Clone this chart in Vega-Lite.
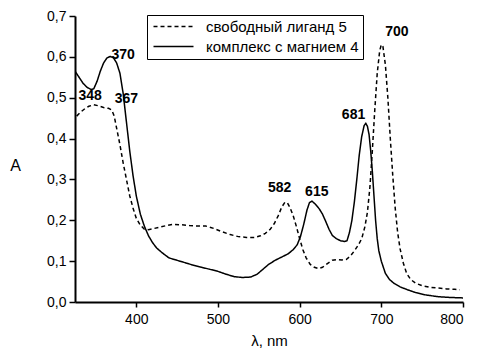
{
  "$schema": "https://vega.github.io/schema/vega-lite/v6.json",
  "autosize": {"type": "none"},
  "padding": {"left": 75, "top": 16, "right": 15, "bottom": 53},
  "width": 388,
  "height": 286,
  "background": "white",
  "config": {
    "view": {"stroke": null},
    "font": "Liberation Sans",
    "axis": {"grid": false, "domainColor": "black", "domainWidth": 2, "tickColor": "black", "tickWidth": 1.5, "labelColor": "black", "titleColor": "black", "labelFont": "Liberation Sans", "titleFont": "Liberation Sans", "titleFontWeight": "normal"}
  },
  "datasets": {
    "spectra": [
      {"series": "комплекс с магнием 4", "wl": 325, "A": 0.565},
      {"series": "комплекс с магнием 4", "wl": 330, "A": 0.55},
      {"series": "комплекс с магнием 4", "wl": 335, "A": 0.535},
      {"series": "комплекс с магнием 4", "wl": 340, "A": 0.525},
      {"series": "комплекс с магнием 4", "wl": 345, "A": 0.52},
      {"series": "комплекс с магнием 4", "wl": 348, "A": 0.522},
      {"series": "комплекс с магнием 4", "wl": 352, "A": 0.54},
      {"series": "комплекс с магнием 4", "wl": 356, "A": 0.565},
      {"series": "комплекс с магнием 4", "wl": 360, "A": 0.585},
      {"series": "комплекс с магнием 4", "wl": 364, "A": 0.597},
      {"series": "комплекс с магнием 4", "wl": 368, "A": 0.601},
      {"series": "комплекс с магнием 4", "wl": 372, "A": 0.598},
      {"series": "комплекс с магнием 4", "wl": 376, "A": 0.585},
      {"series": "комплекс с магнием 4", "wl": 380, "A": 0.56},
      {"series": "комплекс с магнием 4", "wl": 384, "A": 0.51},
      {"series": "комплекс с магнием 4", "wl": 388, "A": 0.44},
      {"series": "комплекс с магнием 4", "wl": 392, "A": 0.37},
      {"series": "комплекс с магнием 4", "wl": 396, "A": 0.31},
      {"series": "комплекс с магнием 4", "wl": 400, "A": 0.26},
      {"series": "комплекс с магнием 4", "wl": 405, "A": 0.215},
      {"series": "комплекс с магнием 4", "wl": 410, "A": 0.185},
      {"series": "комплекс с магнием 4", "wl": 415, "A": 0.162},
      {"series": "комплекс с магнием 4", "wl": 420, "A": 0.145},
      {"series": "комплекс с магнием 4", "wl": 425, "A": 0.132},
      {"series": "комплекс с магнием 4", "wl": 432, "A": 0.12},
      {"series": "комплекс с магнием 4", "wl": 440, "A": 0.108},
      {"series": "комплекс с магнием 4", "wl": 450, "A": 0.102},
      {"series": "комплекс с магнием 4", "wl": 460, "A": 0.096},
      {"series": "комплекс с магнием 4", "wl": 470, "A": 0.09},
      {"series": "комплекс с магнием 4", "wl": 480, "A": 0.085},
      {"series": "комплекс с магнием 4", "wl": 490, "A": 0.08},
      {"series": "комплекс с магнием 4", "wl": 500, "A": 0.075},
      {"series": "комплекс с магнием 4", "wl": 510, "A": 0.068},
      {"series": "комплекс с магнием 4", "wl": 520, "A": 0.062},
      {"series": "комплекс с магнием 4", "wl": 530, "A": 0.06},
      {"series": "комплекс с магнием 4", "wl": 540, "A": 0.061},
      {"series": "комплекс с магнием 4", "wl": 548, "A": 0.068},
      {"series": "комплекс с магнием 4", "wl": 555, "A": 0.08},
      {"series": "комплекс с магнием 4", "wl": 562, "A": 0.092},
      {"series": "комплекс с магнием 4", "wl": 570, "A": 0.102},
      {"series": "комплекс с магнием 4", "wl": 578, "A": 0.11},
      {"series": "комплекс с магнием 4", "wl": 586, "A": 0.118},
      {"series": "комплекс с магнием 4", "wl": 592, "A": 0.128},
      {"series": "комплекс с магнием 4", "wl": 597, "A": 0.14},
      {"series": "комплекс с магнием 4", "wl": 601, "A": 0.16},
      {"series": "комплекс с магнием 4", "wl": 605, "A": 0.19},
      {"series": "комплекс с магнием 4", "wl": 609, "A": 0.225},
      {"series": "комплекс с магнием 4", "wl": 612, "A": 0.243},
      {"series": "комплекс с магнием 4", "wl": 615, "A": 0.247},
      {"series": "комплекс с магнием 4", "wl": 619, "A": 0.24},
      {"series": "комплекс с магнием 4", "wl": 624, "A": 0.228},
      {"series": "комплекс с магнием 4", "wl": 628, "A": 0.215},
      {"series": "комплекс с магнием 4", "wl": 632, "A": 0.197},
      {"series": "комплекс с магнием 4", "wl": 636, "A": 0.178},
      {"series": "комплекс с магнием 4", "wl": 640, "A": 0.163},
      {"series": "комплекс с магнием 4", "wl": 645, "A": 0.155},
      {"series": "комплекс с магнием 4", "wl": 650, "A": 0.15},
      {"series": "комплекс с магнием 4", "wl": 655, "A": 0.148},
      {"series": "комплекс с магнием 4", "wl": 658, "A": 0.15},
      {"series": "комплекс с магнием 4", "wl": 661, "A": 0.17},
      {"series": "комплекс с магнием 4", "wl": 664, "A": 0.2},
      {"series": "комплекс с магнием 4", "wl": 667, "A": 0.245},
      {"series": "комплекс с магнием 4", "wl": 670, "A": 0.3},
      {"series": "комплекс с магнием 4", "wl": 673, "A": 0.36},
      {"series": "комплекс с магнием 4", "wl": 676, "A": 0.405},
      {"series": "комплекс с магнием 4", "wl": 679, "A": 0.432},
      {"series": "комплекс с магнием 4", "wl": 681, "A": 0.437},
      {"series": "комплекс с магнием 4", "wl": 683, "A": 0.43},
      {"series": "комплекс с магнием 4", "wl": 685, "A": 0.41},
      {"series": "комплекс с магнием 4", "wl": 687, "A": 0.37},
      {"series": "комплекс с магнием 4", "wl": 689, "A": 0.32},
      {"series": "комплекс с магнием 4", "wl": 691, "A": 0.26},
      {"series": "комплекс с магнием 4", "wl": 693, "A": 0.2},
      {"series": "комплекс с магнием 4", "wl": 695, "A": 0.155},
      {"series": "комплекс с магнием 4", "wl": 697, "A": 0.125},
      {"series": "комплекс с магнием 4", "wl": 700, "A": 0.1},
      {"series": "комплекс с магнием 4", "wl": 705, "A": 0.07},
      {"series": "комплекс с магнием 4", "wl": 710, "A": 0.055},
      {"series": "комплекс с магнием 4", "wl": 716, "A": 0.045},
      {"series": "комплекс с магнием 4", "wl": 723, "A": 0.037},
      {"series": "комплекс с магнием 4", "wl": 732, "A": 0.03},
      {"series": "комплекс с магнием 4", "wl": 742, "A": 0.023},
      {"series": "комплекс с магнием 4", "wl": 755, "A": 0.017},
      {"series": "комплекс с магнием 4", "wl": 770, "A": 0.013},
      {"series": "комплекс с магнием 4", "wl": 785, "A": 0.011},
      {"series": "комплекс с магнием 4", "wl": 800, "A": 0.01},
      {"series": "свободный лиганд 5", "wl": 327, "A": 0.455},
      {"series": "свободный лиганд 5", "wl": 332, "A": 0.465},
      {"series": "свободный лиганд 5", "wl": 337, "A": 0.473},
      {"series": "свободный лиганд 5", "wl": 342, "A": 0.479},
      {"series": "свободный лиганд 5", "wl": 348, "A": 0.483},
      {"series": "свободный лиганд 5", "wl": 354, "A": 0.48},
      {"series": "свободный лиганд 5", "wl": 360, "A": 0.476},
      {"series": "свободный лиганд 5", "wl": 366, "A": 0.474},
      {"series": "свободный лиганд 5", "wl": 370, "A": 0.47},
      {"series": "свободный лиганд 5", "wl": 373, "A": 0.455},
      {"series": "свободный лиганд 5", "wl": 376, "A": 0.425},
      {"series": "свободный лиганд 5", "wl": 380, "A": 0.385},
      {"series": "свободный лиганд 5", "wl": 384, "A": 0.34},
      {"series": "свободный лиганд 5", "wl": 388, "A": 0.3},
      {"series": "свободный лиганд 5", "wl": 392, "A": 0.26},
      {"series": "свободный лиганд 5", "wl": 396, "A": 0.23},
      {"series": "свободный лиганд 5", "wl": 400, "A": 0.205},
      {"series": "свободный лиганд 5", "wl": 405, "A": 0.188},
      {"series": "свободный лиганд 5", "wl": 410, "A": 0.178},
      {"series": "свободный лиганд 5", "wl": 415, "A": 0.177},
      {"series": "свободный лиганд 5", "wl": 420, "A": 0.179},
      {"series": "свободный лиганд 5", "wl": 428, "A": 0.183},
      {"series": "свободный лиганд 5", "wl": 437, "A": 0.187},
      {"series": "свободный лиганд 5", "wl": 445, "A": 0.19},
      {"series": "свободный лиганд 5", "wl": 455, "A": 0.189},
      {"series": "свободный лиганд 5", "wl": 465, "A": 0.187},
      {"series": "свободный лиганд 5", "wl": 475, "A": 0.186},
      {"series": "свободный лиганд 5", "wl": 485, "A": 0.186},
      {"series": "свободный лиганд 5", "wl": 495, "A": 0.18},
      {"series": "свободный лиганд 5", "wl": 505, "A": 0.172},
      {"series": "свободный лиганд 5", "wl": 515, "A": 0.165},
      {"series": "свободный лиганд 5", "wl": 525, "A": 0.16},
      {"series": "свободный лиганд 5", "wl": 535, "A": 0.158},
      {"series": "свободный лиганд 5", "wl": 545, "A": 0.158},
      {"series": "свободный лиганд 5", "wl": 552, "A": 0.162},
      {"series": "свободный лиганд 5", "wl": 558, "A": 0.168},
      {"series": "свободный лиганд 5", "wl": 564, "A": 0.178},
      {"series": "свободный лиганд 5", "wl": 569, "A": 0.192},
      {"series": "свободный лиганд 5", "wl": 574, "A": 0.212},
      {"series": "свободный лиганд 5", "wl": 578, "A": 0.232},
      {"series": "свободный лиганд 5", "wl": 582, "A": 0.244},
      {"series": "свободный лиганд 5", "wl": 585, "A": 0.243},
      {"series": "свободный лиганд 5", "wl": 588, "A": 0.232},
      {"series": "свободный лиганд 5", "wl": 592, "A": 0.212},
      {"series": "свободный лиганд 5", "wl": 596, "A": 0.185},
      {"series": "свободный лиганд 5", "wl": 600, "A": 0.155},
      {"series": "свободный лиганд 5", "wl": 604, "A": 0.128},
      {"series": "свободный лиганд 5", "wl": 608, "A": 0.108},
      {"series": "свободный лиганд 5", "wl": 613, "A": 0.092},
      {"series": "свободный лиганд 5", "wl": 618, "A": 0.085},
      {"series": "свободный лиганд 5", "wl": 623, "A": 0.082},
      {"series": "свободный лиганд 5", "wl": 628, "A": 0.085},
      {"series": "свободный лиганд 5", "wl": 634, "A": 0.094},
      {"series": "свободный лиганд 5", "wl": 640, "A": 0.102},
      {"series": "свободный лиганд 5", "wl": 646, "A": 0.104},
      {"series": "свободный лиганд 5", "wl": 652, "A": 0.103},
      {"series": "свободный лиганд 5", "wl": 657, "A": 0.104},
      {"series": "свободный лиганд 5", "wl": 662, "A": 0.112},
      {"series": "свободный лиганд 5", "wl": 667, "A": 0.125},
      {"series": "свободный лиганд 5", "wl": 672, "A": 0.14},
      {"series": "свободный лиганд 5", "wl": 676, "A": 0.155},
      {"series": "свободный лиганд 5", "wl": 680, "A": 0.185},
      {"series": "свободный лиганд 5", "wl": 683, "A": 0.22},
      {"series": "свободный лиганд 5", "wl": 686, "A": 0.28},
      {"series": "свободный лиганд 5", "wl": 689, "A": 0.37},
      {"series": "свободный лиганд 5", "wl": 692, "A": 0.47},
      {"series": "свободный лиганд 5", "wl": 695, "A": 0.56},
      {"series": "свободный лиганд 5", "wl": 698, "A": 0.615},
      {"series": "свободный лиганд 5", "wl": 700, "A": 0.63},
      {"series": "свободный лиганд 5", "wl": 702, "A": 0.625},
      {"series": "свободный лиганд 5", "wl": 705, "A": 0.58},
      {"series": "свободный лиганд 5", "wl": 708, "A": 0.5},
      {"series": "свободный лиганд 5", "wl": 711, "A": 0.4},
      {"series": "свободный лиганд 5", "wl": 714, "A": 0.31},
      {"series": "свободный лиганд 5", "wl": 717, "A": 0.23},
      {"series": "свободный лиганд 5", "wl": 720, "A": 0.17},
      {"series": "свободный лиганд 5", "wl": 723, "A": 0.13},
      {"series": "свободный лиганд 5", "wl": 727, "A": 0.095},
      {"series": "свободный лиганд 5", "wl": 731, "A": 0.07},
      {"series": "свободный лиганд 5", "wl": 736, "A": 0.055},
      {"series": "свободный лиганд 5", "wl": 742, "A": 0.046},
      {"series": "свободный лиганд 5", "wl": 750, "A": 0.04},
      {"series": "свободный лиганд 5", "wl": 760, "A": 0.036},
      {"series": "свободный лиганд 5", "wl": 770, "A": 0.034},
      {"series": "свободный лиганд 5", "wl": 780, "A": 0.032},
      {"series": "свободный лиганд 5", "wl": 790, "A": 0.031},
      {"series": "свободный лиганд 5", "wl": 796, "A": 0.03}
    ],
    "peaks": [
      {"label": "348", "wl": 343.5, "A": 0.505},
      {"label": "367", "wl": 388, "A": 0.497},
      {"label": "370", "wl": 384, "A": 0.605},
      {"label": "582", "wl": 575.5, "A": 0.279},
      {"label": "615", "wl": 621, "A": 0.27},
      {"label": "681", "wl": 666, "A": 0.458},
      {"label": "700", "wl": 719, "A": 0.66}
    ]
  },
  "layer": [
    {
      "data": {"name": "spectra"},
      "mark": {"type": "line", "color": "black", "strokeWidth": 1.5, "clip": true},
      "encoding": {
        "x": {"field": "wl", "type": "quantitative", "scale": {"domain": [325, 800], "nice": false, "zero": false},
          "axis": {"title": "λ, nm", "values": [400, 500, 600, 700, 800], "tickSize": 5, "labelFontSize": 14, "labelPadding": 5, "titleFontSize": 15, "titlePadding": 7}},
        "y": {"field": "A", "type": "quantitative", "scale": {"domain": [0, 0.7], "nice": false},
          "axis": {"title": "A", "values": [0, 0.1, 0.2, 0.3, 0.4, 0.5, 0.6, 0.7], "labelExpr": "replace(format(datum.value, '.1f'), '.', ',')", "tickSize": 6, "labelFontSize": 14, "labelPadding": 3, "titleFontSize": 16, "titleAngle": 0, "titleAlign": "center", "titleBaseline": "middle", "titleX": -60, "titleY": 149}},
        "strokeDash": {"field": "series", "type": "nominal",
          "scale": {"domain": ["свободный лиганд 5", "комплекс с магнием 4"], "range": [[4, 3], [1, 0]]},
          "legend": {"title": null, "orient": "none", "legendX": 72, "legendY": -1, "strokeColor": "black", "padding": 4, "symbolType": "M-1,0H7", "symbolSize": 100, "symbolStrokeColor": "black", "symbolStrokeWidth": 1.5, "labelOffset": 40, "labelFontSize": 15, "labelFont": "Liberation Sans", "labelColor": "black", "rowPadding": 4, "labelLimit": 300}}
      }
    },
    {
      "data": {"name": "peaks"},
      "mark": {"type": "text", "font": "Liberation Sans", "fontWeight": "bold", "fontSize": 14, "color": "black", "align": "center", "baseline": "middle"},
      "encoding": {
        "x": {"field": "wl", "type": "quantitative"},
        "y": {"field": "A", "type": "quantitative"},
        "text": {"field": "label"}
      }
    }
  ]
}
